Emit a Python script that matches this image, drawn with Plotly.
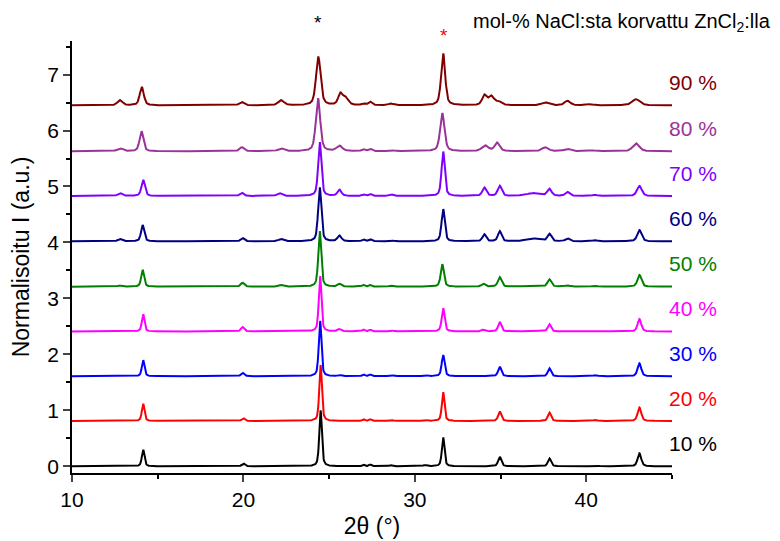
import numpy as np
import plotly.graph_objects as go

# ---- data ----
labels = ["10 %", "20 %", "30 %", "40 %", "50 %", "60 %", "70 %", "80 %", "90 %"]
colors = ["#000000", "#FF0000", "#0000FF", "#FF00FF", "#008000",
          "#000080", "#8000FF", "#993399", "#800000"]
offsets = [0.0, 0.81, 1.61, 2.41, 3.21, 4.02, 4.83, 5.63, 6.45]

# peak tables per sample: (2theta position, normalised height, FWHM)
peaks_10 = [(14.15, 0.30, 0.18), (20.0, 0.05, 0.22), (24.5, 1.00, 0.18), (27.0, 0.03, 0.18),
            (27.4, 0.03, 0.18), (28.6, 0.02, 0.25), (30.6, 0.02, 0.25), (31.65, 0.52, 0.18),
            (34.95, 0.17, 0.22), (37.85, 0.14, 0.22), (40.5, 0.015, 0.35), (43.1, 0.23, 0.25)]
peaks_20 = [(14.15, 0.31, 0.18), (20.0, 0.05, 0.22), (24.5, 1.00, 0.18), (27.0, 0.03, 0.18),
            (27.4, 0.03, 0.18), (28.6, 0.02, 0.25), (30.6, 0.02, 0.25), (31.65, 0.52, 0.18),
            (34.95, 0.17, 0.22), (37.85, 0.15, 0.22), (40.5, 0.015, 0.35), (43.1, 0.24, 0.25)]
peaks_30 = [(14.15, 0.29, 0.18), (19.95, 0.06, 0.22), (24.47, 1.00, 0.18), (25.6, 0.02, 0.25),
            (27.0, 0.03, 0.18), (27.4, 0.03, 0.18), (28.6, 0.02, 0.25), (30.6, 0.02, 0.25),
            (31.65, 0.38, 0.2), (34.95, 0.17, 0.22), (37.85, 0.14, 0.22), (40.5, 0.015, 0.35),
            (43.1, 0.23, 0.25)]
peaks_40 = [(14.15, 0.31, 0.18), (19.95, 0.08, 0.22), (22.2, 0.01, 0.35), (24.47, 1.00, 0.18),
            (25.6, 0.04, 0.25), (27.0, 0.03, 0.18), (27.4, 0.03, 0.18), (28.6, 0.02, 0.25),
            (31.65, 0.42, 0.2), (34.0, 0.03, 0.25), (34.95, 0.17, 0.22), (36.9, 0.015, 0.9),
            (37.85, 0.13, 0.22), (40.5, 0.015, 0.35), (43.1, 0.22, 0.25)]
peaks_50 = [(12.8, 0.02, 0.3), (14.12, 0.30, 0.2), (19.95, 0.07, 0.25), (22.2, 0.03, 0.35),
            (24.45, 1.00, 0.2), (25.6, 0.05, 0.25), (27.0, 0.03, 0.18), (27.4, 0.03, 0.18),
            (28.6, 0.02, 0.25), (31.6, 0.40, 0.22), (34.0, 0.05, 0.25), (34.95, 0.17, 0.25),
            (36.9, 0.02, 0.9), (37.85, 0.13, 0.25), (38.9, 0.02, 0.35), (40.5, 0.015, 0.35),
            (43.1, 0.21, 0.27)]
peaks_60 = [(12.8, 0.04, 0.3), (14.12, 0.29, 0.22), (19.95, 0.06, 0.25), (22.2, 0.04, 0.35),
            (24.45, 0.97, 0.22), (25.6, 0.10, 0.27), (27.0, 0.03, 0.22), (27.4, 0.035, 0.22),
            (28.6, 0.02, 0.3), (31.65, 0.58, 0.22), (34.05, 0.125, 0.25), (34.95, 0.18, 0.25),
            (36.9, 0.05, 0.9), (37.85, 0.13, 0.27), (38.9, 0.05, 0.3), (40.5, 0.02, 0.35),
            (43.1, 0.20, 0.3)]
peaks_70 = [(12.8, 0.05, 0.3), (14.15, 0.29, 0.24), (19.9, 0.06, 0.26), (22.1, 0.05, 0.35),
            (24.45, 0.97, 0.22), (25.6, 0.11, 0.27), (27.0, 0.03, 0.22), (27.4, 0.035, 0.22),
            (28.6, 0.03, 0.3), (31.65, 0.80, 0.22), (34.05, 0.15, 0.27), (34.95, 0.18, 0.27),
            (36.9, 0.05, 0.9), (37.85, 0.125, 0.3), (38.9, 0.07, 0.3), (40.5, 0.02, 0.35),
            (43.1, 0.18, 0.33)]
peaks_80 = [(12.8, 0.05, 0.4), (14.05, 0.36, 0.26), (19.9, 0.07, 0.3), (22.2, 0.05, 0.4),
            (24.35, 0.95, 0.3), (25.6, 0.095, 0.4), (27.0, 0.03, 0.25), (27.4, 0.04, 0.25),
            (28.6, 0.02, 0.35), (31.6, 0.68, 0.3), (34.1, 0.10, 0.45), (34.8, 0.15, 0.35),
            (37.6, 0.07, 0.45), (38.9, 0.04, 0.45), (40.3, 0.015, 0.45), (42.9, 0.14, 0.45)]
peaks_90 = [(12.8, 0.09, 0.35), (14.07, 0.33, 0.28), (19.9, 0.06, 0.32), (22.2, 0.09, 0.4),
            (24.37, 0.86, 0.32), (25.65, 0.19, 0.3), (25.95, 0.13, 0.4), (27.0, 0.03, 0.25),
            (27.4, 0.06, 0.25), (28.6, 0.03, 0.35), (31.65, 0.93, 0.28), (34.05, 0.17, 0.3),
            (34.45, 0.16, 0.4), (34.9, 0.06, 0.4), (37.6, 0.05, 0.5), (38.9, 0.08, 0.4),
            (40.2, 0.02, 0.45), (42.9, 0.11, 0.55)]
peak_tables = [peaks_10, peaks_20, peaks_30, peaks_40, peaks_50,
               peaks_60, peaks_70, peaks_80, peaks_90]

two_theta = np.arange(10.0, 45.001, 0.02)


def pattern(peaks):
    y = np.zeros_like(two_theta)
    for pos, h, w in peaks:
        d = (two_theta - pos) / (w / 2.0)
        lor = 1.0 / (1.0 + d ** 2)
        gau = np.exp(-np.log(2) * d ** 2)
        y += h * (0.5 * lor + 0.5 * gau)
    return y


fig = go.Figure()
for lab, col, off, pk in zip(labels, colors, offsets, peak_tables):
    fig.add_trace(go.Scatter(x=two_theta, y=pattern(pk) + off, mode="lines",
                             line=dict(color=col, width=2), name=lab,
                             showlegend=False, hoverinfo="skip", cliponaxis=False))
    fig.add_annotation(x=44.7, y=off + 0.41, xref="x", yref="y", text=lab,
                       showarrow=False, xanchor="left", yanchor="middle",
                       font=dict(size=21, color=col))

# the page body has an 8 px margin: figure pixel = window pixel - 8
PAD = 8
W, H = 780 - PAD, 541 - PAD
L, T = 72 - PAD, 41 - PAD
pw, ph = 600, 432
R, B = W - L - pw, H - T - ph


def px(xw, yw):
    return (xw - PAD - L) / pw, (H - (yw - PAD) - B) / ph


ax, ay = px(318, 22)
fig.add_annotation(x=ax, y=ay, xref="paper", yref="paper", text="*", showarrow=False,
                   font=dict(size=19, color="black"), xanchor="center", yanchor="middle")
ax, ay = px(444, 35)
fig.add_annotation(x=ax, y=ay, xref="paper", yref="paper", text="*", showarrow=False,
                   font=dict(size=19, color="red"), xanchor="center", yanchor="middle")
ax, ay = px(471, 22)
fig.add_annotation(x=ax, y=ay, xref="paper", yref="paper",
                   text="mol-% NaCl:sta korvattu ZnCl<sub>2</sub>:lla", showarrow=False,
                   xanchor="left", yanchor="middle", font=dict(size=20, color="black"))

fig.update_layout(
    width=W, height=H,
    margin=dict(l=L, r=R, t=T, b=B, autoexpand=False),
    plot_bgcolor="white", paper_bgcolor="white",
    font=dict(family="Liberation Sans, Arial, sans-serif", color="black"),
    xaxis=dict(range=[10, 45], tickvals=[10, 20, 30, 40], ticks="outside", ticklen=7,
               tickwidth=1.5, showline=True, linecolor="black", linewidth=1.5,
               showgrid=False, zeroline=False, mirror=False, automargin=False,
               minor=dict(tickvals=[15, 25, 35, 45], ticks="outside", ticklen=4,
                          tickwidth=1.5, tickcolor="black"),
               tickfont=dict(size=21), title=dict(text="2θ (°)", font=dict(size=23), standoff=8)),
    yaxis=dict(range=[-0.12, 7.6], tickvals=list(range(0, 8)), ticks="outside", ticklen=7,
               tickwidth=1.5, showline=True, linecolor="black", linewidth=1.5,
               showgrid=False, zeroline=False, mirror=False, automargin=False,
               minor=dict(tickvals=[0.5, 1.5, 2.5, 3.5, 4.5, 5.5, 6.5, 7.5], ticks="outside",
                          ticklen=4, tickwidth=1.5, tickcolor="black"),
               tickfont=dict(size=21),
               title=dict(text="Normalisoitu I (a.u.)", font=dict(size=23), standoff=12)),
)

fig.write_html("out.html")
